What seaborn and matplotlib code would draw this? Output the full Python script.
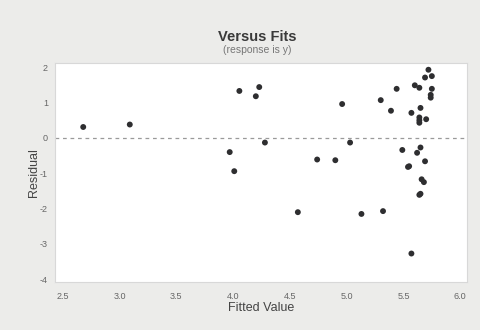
import matplotlib
matplotlib.use("Agg")
import matplotlib.pyplot as plt
import seaborn as sns
import pandas as pd

fitted = [2.68, 3.09, 3.97, 4.01, 4.055, 4.20, 4.23, 4.28, 4.57, 4.74,
          4.90, 4.96, 5.03, 5.13, 5.30, 5.32, 5.39, 5.44, 5.49, 5.54,
          5.55, 5.57, 5.57, 5.60, 5.62, 5.64, 5.64, 5.64, 5.64, 5.64,
          5.65, 5.65, 5.65, 5.66, 5.68, 5.69, 5.69, 5.70, 5.72, 5.75,
          5.75, 5.74, 5.74]
residual = [0.31, 0.38, -0.40, -0.94, 1.33, 1.18, 1.44, -0.13, -2.10, -0.61,
            -0.63, 0.96, -0.13, -2.15, 1.07, -2.07, 0.77, 1.39, -0.34, -0.82,
            -0.80, 0.71, -3.27, 1.49, -0.42, 0.58, 0.50, 0.43, 1.42, -1.61,
            -1.58, -0.27, 0.85, -1.17, -1.25, -0.66, 1.71, 0.53, 1.93, 1.75,
            1.39, 1.22, 1.14]

xticks = [2.5, 3.0, 3.5, 4.0, 4.5, 5.0, 5.5, 6.0]
yticks = [2, 1, 0, -1, -2, -3, -4]

df = pd.DataFrame({"Fitted Value": fitted, "Residual": residual})

sns.set_style("white")
plt.rcParams["font.family"] = ["Liberation Sans", "DejaVu Sans"]
plt.rcParams["axes.unicode_minus"] = False

fig = plt.figure(figsize=(4.81, 3.30), dpi=100, facecolor="#ececea")
ax = fig.add_axes([0.114, 0.145, 0.857, 0.664])
ax.set_facecolor("white")

sns.scatterplot(data=df, x="Fitted Value", y="Residual", ax=ax,
                color="#2e2e30", s=18, edgecolor="none")
ax.axhline(0, color="#9a9a9a", linestyle=(0, (3, 3)), linewidth=0.9, zorder=0)

ax.set_xlim(2.43, 6.06)
ax.set_ylim(-4.08, 2.12)
ax.set_xticks(xticks)
ax.set_xticklabels([f"{t:.1f}" for t in xticks])
ax.set_yticks(yticks)
ax.tick_params(axis="x", length=0, labelsize=6.5, colors="#666666", pad=7)
ax.tick_params(axis="y", length=0, labelsize=6.5, colors="#666666", pad=5)
for s in ax.spines.values():
    s.set_color("#d8d8d8")
    s.set_linewidth(0.8)

ax.set_xlabel("Fitted Value", fontsize=9, color="#444444", labelpad=1)
ax.set_ylabel("Residual", fontsize=9, color="#444444", labelpad=0)

fig.text(0.535, 0.888, "Versus Fits", ha="center", va="center", fontsize=10.5,
         fontweight="bold", color="#3a3a3a")
fig.text(0.535, 0.848, "(response is y)", ha="center", va="center",
         fontsize=7.5, color="#777777")

fig.savefig("out.png", dpi=100, facecolor=fig.get_facecolor())
